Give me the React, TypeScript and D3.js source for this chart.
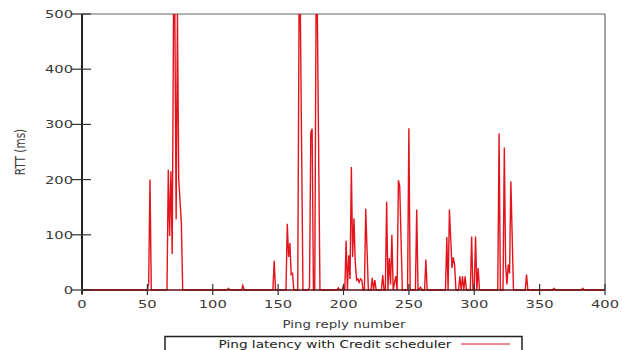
import React from "react";
import * as d3 from "d3";

// key points (reply number, RTT ms); the line runs through them
const replyNumbers = [
  0, 50, 51, 52, 53, 65, 66, 67, 68, 69, 70, 71, 72, 73, 74, 76, 77,
  111, 112, 113, 122, 123, 124, 146, 147, 148, 156, 157, 158, 159, 160, 161, 162,
  165, 166, 167, 169, 173, 174, 175, 176, 177, 178, 179, 180, 182,
  195, 196, 197, 199, 200, 201, 202, 203, 204, 205, 206, 207, 208, 209, 210, 211, 212, 213, 214, 215,
  216, 217, 219, 221, 222, 223, 224, 225, 229, 230, 231, 232, 233, 234, 235, 236, 237, 238,
  240, 241, 242, 243, 245, 249, 250, 251, 255, 256, 257, 259, 260, 262, 263, 264,
  278, 279, 280, 281, 282, 283, 284, 285, 286, 288, 289, 290, 291, 292, 293, 294,
  297, 298, 299, 300, 301, 302, 303, 304, 318, 319, 320, 322, 323, 324, 325, 326, 327, 328, 330,
  339, 340, 341, 360, 361, 362, 382, 383, 384, 400
];
const rttValues = [
  0, 0, 12, 200, 0, 0, 218, 98, 215, 65, 500, 500, 128, 500, 200, 120, 0,
  0, 3, 0, 0, 8, 0, 0, 53, 0, 0, 120, 60, 85, 28, 30, 0,
  0, 500, 500, 0, 0, 5, 285, 292, 0, 0, 500, 500, 0,
  0, 4, 0, 0, 8, 0, 89, 0, 63, 20, 223, 60, 130, 50, 18, 20, 14, 20, 18, 0,
  0, 147, 0, 0, 22, 0, 18, 0, 0, 27, 0, 0, 160, 0, 58, 10, 100, 0,
  25, 0, 199, 188, 0, 0, 293, 0, 0, 146, 0, 5, 0, 0, 55, 0,
  0, 96, 0, 146, 93, 40, 59, 45, 0, 0, 25, 0, 25, 0, 25, 0,
  0, 97, 0, 0, 97, 0, 40, 0, 0, 284, 0, 0, 258, 45, 10, 46, 30, 197, 0,
  0, 28, 0, 0, 3, 0, 0, 3, 0, 0
];
const xTicks = [0, 50, 100, 150, 200, 250, 300, 350, 400];
const yTicks = [0, 100, 200, 300, 400, 500];
const seriesName = "Ping latency with Credit scheduler";

// the source image is stretched sideways, so text is widened with scaleX
function Wide({ x, y, sx, anchor, size, fill, rotate, children }: any) {
  const r = rotate ? ` rotate(${rotate})` : "";
  return (
    <text
      transform={`translate(${x},${y})${r} scale(${rotate ? 1 : sx},${rotate ? sx : 1})`}
      textAnchor={anchor}
      fontSize={size}
      fill={fill}
    >
      {children}
    </text>
  );
}

export default function App() {
  const width = 622;
  const height = 350;
  const left = 82, right = 605, top = 14, bottom = 290;

  const x = d3.scaleLinear().domain([0, 400]).range([left, right]);
  const y = d3.scaleLinear().domain([0, 500]).range([bottom, top]);

  const line = d3
    .line<number>()
    .x((d, i) => x(replyNumbers[i]))
    .y((d) => y(d));

  const textColor = "#3a3a3a";

  return (
    <svg
      width={width}
      height={height}
      style={{ position: "absolute", left: 0, top: 0, background: "#fff" }}
      fontFamily="'DejaVu Sans', Verdana, sans-serif"
    >
      <defs>
        <clipPath id="plot">
          <rect x={left} y={top} width={right - left} height={bottom - top + 1} />
        </clipPath>
      </defs>

      {/* frame */}
      <line x1={left} x2={right} y1={top} y2={top} stroke="#666" strokeWidth={1.2} />
      <line x1={right} x2={right} y1={top} y2={bottom} stroke="#666" strokeWidth={1.2} />

      {/* series */}
      <path
        d={line(rttValues) ?? ""}
        fill="none"
        stroke="#e3141b"
        strokeWidth={1.4}
        clipPath="url(#plot)"
      />

      {/* axes */}
      <line x1={left} x2={right} y1={bottom} y2={bottom} stroke="#5a1010" strokeWidth={1.5} />
      <line x1={left} x2={left} y1={top} y2={bottom + 4} stroke="#222" strokeWidth={2} />

      {xTicks.map((t) => (
        <g key={"x" + t}>
          <line x1={x(t)} x2={x(t)} y1={bottom - 6} y2={bottom + 5} stroke="#333" strokeWidth={1.2} />
          <Wide x={x(t)} y={bottom + 18} sx={1.4} anchor="middle" size={10.5} fill={textColor}>
            {t}
          </Wide>
        </g>
      ))}

      {yTicks.map((t) => (
        <g key={"y" + t}>
          <line x1={left - 10} x2={left + 9} y1={y(t)} y2={y(t)} stroke="#333" strokeWidth={1.2} />
          <Wide x={left - 9} y={y(t) + 4} sx={1.4} anchor="end" size={10.5} fill={textColor}>
            {t}
          </Wide>
        </g>
      ))}

      <Wide x={25} y={(top + bottom) / 2} sx={1.35} rotate={-90} anchor="middle" size={10.5} fill={textColor}>
        RTT (ms)
      </Wide>
      <Wide x={344} y={328} sx={1.28} anchor="middle" size={10.5} fill={textColor}>
        Ping reply number
      </Wide>

      {/* legend */}
      <rect x={165} y={336.5} width={357} height={30} fill="#fff" stroke="#222" strokeWidth={1.5} />
      <Wide x={335} y={348} sx={1.3} anchor="middle" size={10.5} fill="#222">
        {seriesName}
      </Wide>
      <line x1={461} x2={510} y1={344} y2={344} stroke="#e3141b" strokeWidth={1} />
    </svg>
  );
}
